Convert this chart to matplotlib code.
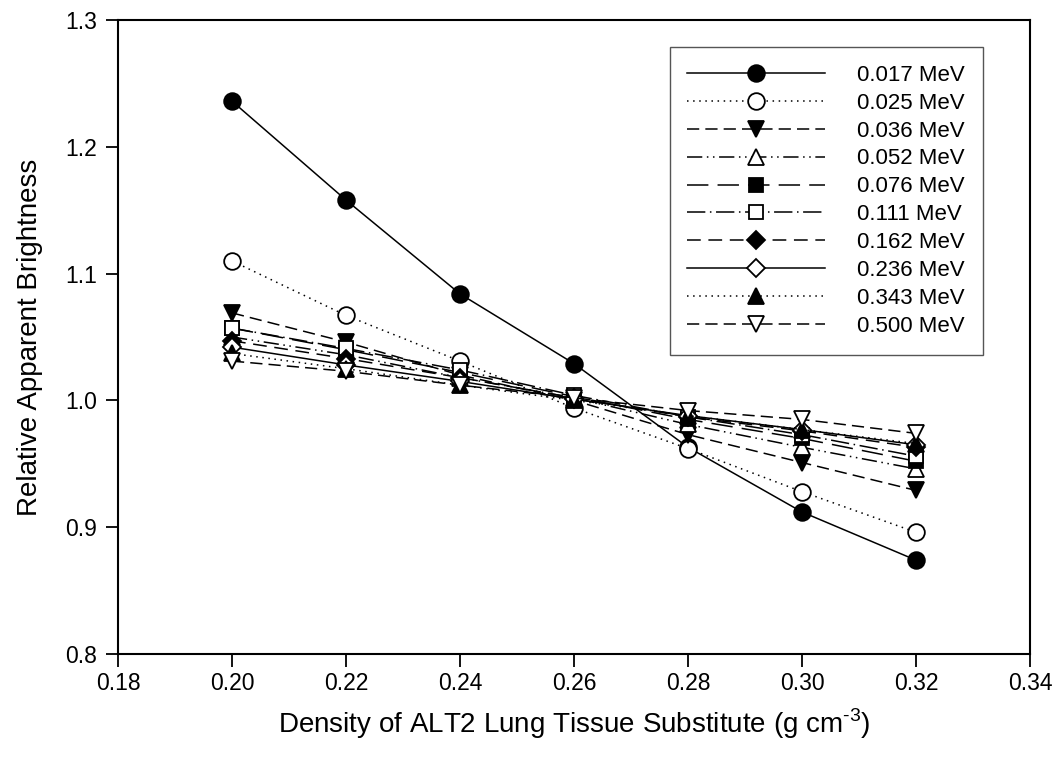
import matplotlib
matplotlib.use("Agg")
import matplotlib.pyplot as plt

plt.rcParams['font.family'] = ['Liberation Sans', 'DejaVu Sans']
plt.rcParams['mathtext.fontset'] = 'custom'
plt.rcParams['mathtext.rm'] = 'Liberation Sans'

density = [0.20, 0.22, 0.24, 0.26, 0.28, 0.30, 0.32]

energies = ['0.017 MeV', '0.025 MeV', '0.036 MeV', '0.052 MeV', '0.076 MeV',
            '0.111 MeV', '0.162 MeV', '0.236 MeV', '0.343 MeV', '0.500 MeV']

e017 = [1.236, 1.158, 1.084, 1.029, 0.963, 0.912, 0.874]
e025 = [1.110, 1.067, 1.031, 0.994, 0.962, 0.928, 0.896]
e036 = [1.069, 1.046, 1.020, 1.000, 0.973, 0.951, 0.929]
e052 = [1.050, 1.036, 1.018, 1.002, 0.981, 0.963, 0.946]
e076 = [1.057, 1.040, 1.022, 1.003, 0.985, 0.970, 0.952]
e111 = [1.057, 1.041, 1.024, 1.004, 0.987, 0.973, 0.956]
e162 = [1.047, 1.033, 1.018, 1.002, 0.987, 0.976, 0.963]
e236 = [1.042, 1.028, 1.015, 1.001, 0.988, 0.977, 0.965]
e343 = [1.037, 1.025, 1.012, 1.000, 0.988, 0.977, 0.966]
e500 = [1.031, 1.023, 1.012, 1.002, 0.992, 0.985, 0.974]

series = [e017, e025, e036, e052, e076, e111, e162, e236, e343, e500]

# (marker, filled, linestyle)
styles = [
    ('o', True, '-'),
    ('o', False, (0, (1, 3))),
    ('v', True, (0, (8, 4))),
    ('^', False, (0, (10, 3, 1, 3, 1, 3))),
    ('s', True, (0, (14, 6))),
    ('s', False, (0, (12, 3, 1, 3))),
    ('D', True, (0, (9, 5))),
    ('D', False, '-'),
    ('^', True, (0, (1, 3))),
    ('v', False, (0, (8, 4))),
]
sizes = {'o': 12, 'v': 12, '^': 12, 's': 10, 'D': 9}

fig = plt.figure(figsize=(10.54, 7.66), dpi=100)
ax = fig.add_axes([118 / 1054, 1 - 654 / 766, (1030 - 118) / 1054, (654 - 20) / 766])

for vals, lab, (m, filled, ls) in zip(series, energies, styles):
    ax.plot(density, vals, color='black', linestyle=ls, linewidth=1.1,
            marker=m, markersize=sizes[m],
            markerfacecolor='black' if filled else 'white',
            markeredgecolor='black', markeredgewidth=1.3, label=lab)

ax.set_xlim(0.18, 0.34)
ax.set_ylim(0.8, 1.3)
ax.set_xticks([0.18, 0.20, 0.22, 0.24, 0.26, 0.28, 0.30, 0.32, 0.34])
ax.set_xticklabels(['0.18', '0.20', '0.22', '0.24', '0.26', '0.28', '0.30', '0.32', '0.34'])
ax.set_yticks([0.8, 0.9, 1.0, 1.1, 1.2, 1.3])
ax.set_yticklabels(['0.8', '0.9', '1.0', '1.1', '1.2', '1.3'])
ax.tick_params(direction='out', length=9, width=1.3, labelsize=16.5)
ax.tick_params(axis='x', pad=4)
ax.tick_params(axis='y', pad=6)
for s in ax.spines.values():
    s.set_linewidth(1.5)

ax.set_xlabel(r'Density of ALT2 Lung Tissue Substitute (g cm$^{\text{-3}}$)', fontsize=20, labelpad=8)
ax.set_ylabel('Relative Apparent Brightness', fontsize=20, labelpad=16)

leg = ax.legend(loc='upper right', bbox_to_anchor=(983 / 1054, 1 - 47 / 766),
                bbox_transform=fig.transFigure, borderaxespad=0, numpoints=1,
                handlelength=6.2, handletextpad=1.45, labelspacing=0.31,
                fontsize=16, fancybox=False, framealpha=1, borderpad=0.8)
leg.get_frame().set_edgecolor('#555555')
leg.get_frame().set_linewidth(1.0)

fig.savefig('out.png', dpi=100)
